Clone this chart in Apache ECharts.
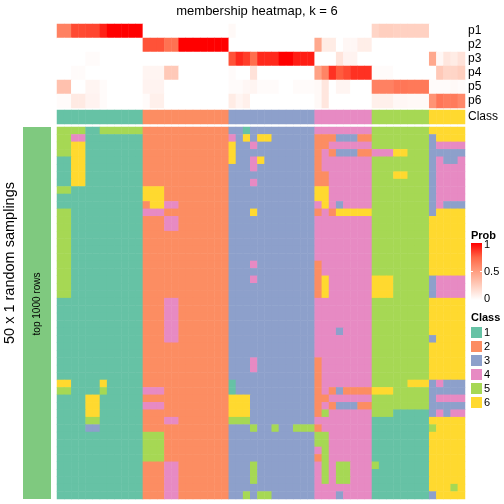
<!DOCTYPE html>
<html><head><meta charset="utf-8">
<script src="https://cdn.jsdelivr.net/npm/echarts@6/dist/echarts.min.js"></script>
<style>html,body{margin:0;padding:0;background:#fff}#c{width:504px;height:504px}</style>
</head><body><div id="c"></div>
<script>
// ---- data ----
const titleText = 'membership heatmap, k = 6';
const probLabels = ['p1', 'p2', 'p3', 'p4', 'p5', 'p6'];
const classNames = ['1', '2', '3', '4', '5', '6'];
const classColors = ['#66C2A5', '#FC8D62', '#8DA0CB', '#E78AC3', '#A6D854', '#FFD92F'];
// class of each column (sample)
const colClass = [1,1,1,1,1,1,1,1,1,1,1,1, 2,2,2,2,2,2,2,2,2,2,2,2, 3,3,3,3,3,3,3,3,3,3,3,3, 4,4,4,4,4,4,4,4, 5,5,5,5,5,5,5,5, 6,6,6,6,6];
// membership probabilities per column
const p1 = [0.63,0.63,0.82,0.82,0.83,0.83,0.92,1,1,1,1,1, 0,0,0,0,0,0,0,0,0,0,0,0, 0.03,0,0,0,0,0,0,0,0,0,0,0, 0,0,0,0,0,0,0,0, 0.22,0.25,0.25,0.24,0.24,0.24,0.24,0.24, 0,0,0,0,0];
const p2 = [0,0,0,0,0,0,0,0,0,0,0,0, 0.8,0.8,0.8,0.7,0.7,1,1,1,1,1,1,1, 0,0,0,0,0,0,0,0,0,0,0,0, 0.45,0.1,0.1,0,0.04,0.04,0.09,0.09, 0,0,0,0,0,0,0,0, 0,0,0,0,0];
const p3 = [0,0,0,0,0.02,0.02,0,0,0,0,0,0, 0,0,0,0,0,0,0,0,0,0,0,0, 0.8,0.9,0.85,0.72,0.9,0.9,0.9,1,1,0.93,0.93,0.93, 0,0,0,0.14,0.06,0.06,0,0, 0,0,0,0,0,0,0,0, 0.45,0.04,0.13,0.1,0.15];
const p4 = [0,0,0.02,0.02,0,0,0,0,0,0,0,0, 0.05,0.05,0.05,0.28,0.28,0,0,0,0,0,0,0, 0.02,0,0,0.15,0,0,0,0,0,0,0,0, 0.48,0.62,0.88,0.78,0.82,0.88,0.88,0.88, 0.02,0.02,0.02,0,0,0,0,0, 0,0.28,0.22,0.22,0.25];
const p5 = [0.32,0.32,0,0,0.05,0.05,0.02,0,0,0,0,0, 0.06,0.06,0.06,0,0,0,0,0,0,0,0,0, 0.02,0.02,0.04,0.05,0.02,0.02,0.02,0,0,0.02,0.02,0.02, 0.03,0.13,0,0.05,0.05,0,0,0, 0.63,0.63,0.63,0.68,0.68,0.67,0.67,0.67, 0.02,0.02,0.02,0.03,0.02];
const p6 = [0.02,0.02,0.11,0.11,0.06,0.06,0.02,0,0,0,0,0, 0.02,0.08,0.08,0,0,0,0,0,0,0,0,0, 0.1,0.05,0.08,0,0,0,0,0,0,0,0,0, 0.03,0.13,0,0,0,0,0,0, 0.08,0.08,0.08,0.04,0.04,0.03,0.03,0.03, 0.55,0.68,0.65,0.66,0.6];
// class assigned in each of 50 samplings (rows) for each of 57 columns
const samplingRows = [
  '555511555555222222222222331333333333444444445555555566666',
  '554411111111222222222222436366333333222333225555555536666',
  '556611111111222222222222633433333333224444445555555534444',
  '556611111111222222222222633333333333242333224446655533333',
  '116611111111222222222222633463333333244444445555555534334',
  '116611111111222222222222333433333333244444445555555534444',
  '116611111111222222222222333333333333224444445556655534444',
  '116611111111222222222222333433333333224444445555555534444',
  '551111111111666222222222333333333333664444445555555534444',
  '111111111111666222222222333333333333664444445555555534444',
  '111111111111266442222222333333333333464344445555555534333',
  '551111111111444222222222333633333333242666665555555536666',
  '551111111111222442222222333333333333444444445555555566666',
  '551111111111222442222222333333333333444444445555555566666',
  '551111111111222222222222333333333333444444445555555566666',
  '551111111111222222222222333333333333444444445555555566666',
  '551111111111222222222222333333333333444444445555555566666',
  '551111111111222222222222333333333333444444445555555566666',
  '551111111111222222222222333433333333244444445555555566666',
  '551111111111222222222222333333333333244444445555555566666',
  '551111111111222222222222333433333333264444446665555534444',
  '551111111111222222222222333333333333264444446665555534444',
  '551111111111222222222222333333333333264444446665555534444',
  '111111111111222442222222333333333333444444445555555566666',
  '111111111111222442222222333333333333444444445555555566666',
  '111111111111222442222222333333333333444444445555555566666',
  '111111111111222442222222333333333333444444445555555566666',
  '111111111111222442222222333333333333444344445555555566666',
  '111111111111222442222222333333333333444444445555555536666',
  '111111111111222222222222333333333333444444445555555566666',
  '111111111111222222222222333333333333444444445555555566666',
  '111111111111222222222222333433333333244444445555555566666',
  '111111111111222222222222333433333333244444445555555566666',
  '111111111111222222222222333333333333244444445555555566666',
  '661111611111222222222222133333333333244444445555566634333',
  '551111511111444222222222133333333333242322226665555533333',
  '111166111111222222222222666333333333224444445555555534444',
  '111166111111444222222222666333333333242333225555555533333',
  '111166111111222222222222666333333333254444445551111134344',
  '111155111111222442222222555333333333444444441111111166666',
  '111133111111222222222222333533533555244444441111111156666',
  '111111111111555222222222333333333333554444441111111166666',
  '111111111111555222222222333333333333554444441111111166666',
  '111111111111555222222222333333333333454444441111111166666',
  '111111111111555222222222333333333333254444441111111166666',
  '111111111111222442222222333533333333454554445111111166666',
  '111111111111222442222222333533333333454554441111111166666',
  '111111111111222442222222333533333333454554441111111166666',
  '111111111111222442222222333333333333444444441111111166656',
  '111111111111222442222222335355333333444344441111111136666'
];

// ---- build ----
const nCol = colClass.length, nRow = samplingRows.length;
const colIdx = colClass.map((_, i) => i);
const rowIdx = samplingRows.map((_, i) => i);
const probs = [p1, p2, p3, p4, p5, p6];
const probData = [];
probs.forEach((arr, r) => arr.forEach((v, c) => probData.push([c, r, v])));
const classData = colClass.map((v, c) => [c, 0, v]);
const mainData = [];
samplingRows.forEach((s, r) => { for (let c = 0; c < nCol; c++) mainData.push([c, r, +s[c]]); });

const FONT = 'Liberation Sans, Arial, Helvetica, sans-serif';
const GL = 57, GW = 408;
const hiddenX = i => ({ type: 'category', gridIndex: i, data: colIdx, show: false });

const chart = echarts.init(document.getElementById('c'), null, { renderer: 'canvas' });
const pieces = classColors.map((col, i) => ({ value: i + 1, color: col }));

const legendItems = [];
classNames.forEach((n, i) => {
  legendItems.push({ type: 'rect', shape: { x: 471, y: 327 + i * 14, width: 11, height: 11 }, style: { fill: classColors[i] } });
  legendItems.push({ type: 'text', x: 484, y: 333 + i * 14, style: { text: n, fontSize: 11, fontFamily: FONT, fill: '#000', verticalAlign: 'middle' } });
});

chart.setOption({
  animation: false,
  backgroundColor: '#fff',
  grid: [
    { left: GL, top: 24, width: GW, height: 84 },
    { left: GL, top: 110, width: GW, height: 14 },
    { left: GL, top: 127, width: GW, height: 372 }
  ],
  xAxis: [hiddenX(0), hiddenX(1), hiddenX(2)],
  yAxis: [
    { type: 'category', gridIndex: 0, data: probLabels, inverse: true, position: 'right',
      axisLine: { show: false }, axisTick: { show: false },
      axisLabel: { interval: 0, fontSize: 12, fontFamily: FONT, color: '#000', margin: 3 } },
    { type: 'category', gridIndex: 1, data: ['Class'], position: 'right',
      axisLine: { show: false }, axisTick: { show: false },
      axisLabel: { interval: 0, fontSize: 12, fontFamily: FONT, color: '#000', margin: 3 } },
    { type: 'category', gridIndex: 2, data: rowIdx, inverse: true, show: false }
  ],
  visualMap: [
    { type: 'continuous', min: 0, max: 1, dimension: 2, seriesIndex: 0, show: false,
      inRange: { color: ['#FFFFFF', '#FFCFBF', '#FF9E81', '#FF6746', '#FF0000'] } },
    { type: 'piecewise', dimension: 2, seriesIndex: [1, 2], show: false, pieces: pieces }
  ],
  series: [
    { type: 'heatmap', xAxisIndex: 0, yAxisIndex: 0, data: probData, emphasis: { disabled: true }, progressive: 0 },
    { type: 'heatmap', xAxisIndex: 1, yAxisIndex: 1, data: classData, emphasis: { disabled: true }, progressive: 0 },
    { type: 'heatmap', xAxisIndex: 2, yAxisIndex: 2, data: mainData, emphasis: { disabled: true }, progressive: 0 }
  ],
  graphic: [
    { type: 'text', x: 257, y: 11, style: { text: titleText, fontSize: 13, fontFamily: FONT, fill: '#000', align: 'center', verticalAlign: 'middle' } },
    { type: 'rect', shape: { x: 23, y: 127, width: 28, height: 372 }, style: { fill: '#7FC97F' } },
    { type: 'text', x: 37, y: 304, rotation: Math.PI / 2, style: { text: 'top 1000 rows', fontSize: 10, fontFamily: FONT, fill: '#000', align: 'center', verticalAlign: 'middle' } },
    { type: 'text', x: 10, y: 263, rotation: Math.PI / 2, style: { text: '50 x 1 random samplings', fontSize: 14.5, fontFamily: FONT, fill: '#000', align: 'center', verticalAlign: 'middle' } },
    { type: 'text', x: 471, y: 236, style: { text: 'Prob', fontSize: 11, fontWeight: 'bold', fontFamily: FONT, fill: '#000', verticalAlign: 'middle' } },
    { type: 'rect', shape: { x: 471, y: 243, width: 11, height: 57 },
      style: { fill: new echarts.graphic.LinearGradient(0, 0, 0, 1, [
        { offset: 0, color: '#FF0000' }, { offset: 0.25, color: '#FF6746' }, { offset: 0.5, color: '#FF9E81' },
        { offset: 0.75, color: '#FFCFBF' }, { offset: 1, color: '#FFFFFF' }]) } },
    { type: 'line', shape: { x1: 471, y1: 271.5, x2: 473, y2: 271.5 }, style: { stroke: '#fff', lineWidth: 1 } },
    { type: 'line', shape: { x1: 480, y1: 271.5, x2: 482, y2: 271.5 }, style: { stroke: '#fff', lineWidth: 1 } },
    { type: 'text', x: 484, y: 245, style: { text: '1', fontSize: 11, fontFamily: FONT, fill: '#000', verticalAlign: 'middle' } },
    { type: 'text', x: 484, y: 272, style: { text: '0.5', fontSize: 11, fontFamily: FONT, fill: '#000', verticalAlign: 'middle' } },
    { type: 'text', x: 484, y: 299, style: { text: '0', fontSize: 11, fontFamily: FONT, fill: '#000', verticalAlign: 'middle' } },
    { type: 'text', x: 471, y: 318, style: { text: 'Class', fontSize: 11, fontWeight: 'bold', fontFamily: FONT, fill: '#000', verticalAlign: 'middle' } }
  ].concat(legendItems)
});
</script>
</body></html>
